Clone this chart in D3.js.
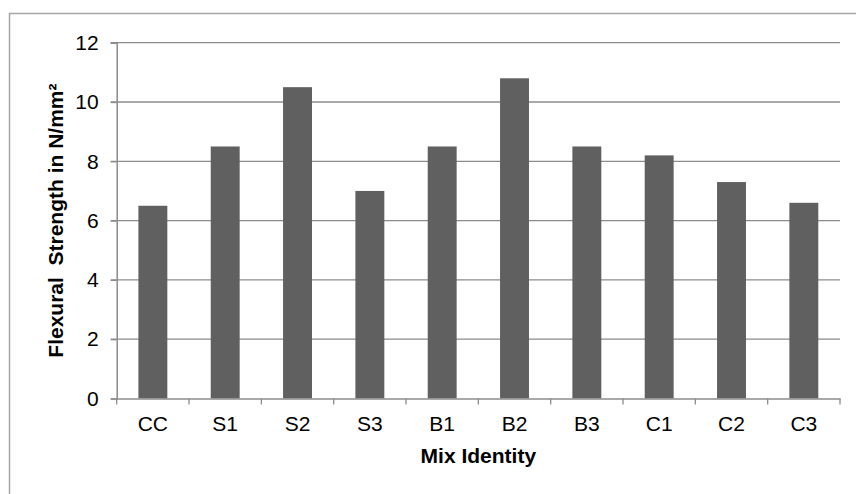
<!DOCTYPE html>
<html>
<head>
<meta charset="utf-8">
<script src="https://cdn.jsdelivr.net/npm/d3@7"></script>
<style>
  html, body { margin: 0; padding: 0; background: #fff; }
  svg { display: block; font-family: "Liberation Sans", Arial, sans-serif; }
</style>
</head>
<body>
<svg id="chart" width="856" height="494"></svg>
<script>
const categories = ["CC", "S1", "S2", "S3", "B1", "B2", "B3", "C1", "C2", "C3"];
const values = [6.5, 8.5, 10.5, 7.0, 8.5, 10.8, 8.5, 8.2, 7.3, 6.6];
const yTicks = [0, 2, 4, 6, 8, 10, 12];
const xTitle = "Mix Identity";
const yTitle = "Flexural  Strength in N/mm²";

const svg = d3.select("#chart");
const plotL = 116.7, plotR = 840, plotT = 42.7, plotB = 398.5;

// outer border
svg.append("rect")
  .attr("x", 9.5).attr("y", 13.5)
  .attr("width", 860).attr("height", 500)
  .attr("fill", "none").attr("stroke", "#a6a6a6").attr("stroke-width", 1.5);

const x = d3.scaleBand().domain(categories).range([plotL, plotR]).paddingInner(0.6).paddingOuter(0.3);
const xb = d3.scaleBand().domain(categories).range([plotL, plotR]);
const y = d3.scaleLinear().domain([0, 12]).range([plotB, plotT]);

// gridlines
svg.append("g").selectAll("line").data(yTicks.filter(d => d > 0)).join("line")
  .attr("x1", plotL - 6).attr("x2", plotR)
  .attr("y1", d => y(d)).attr("y2", d => y(d))
  .attr("stroke", "#8c8c8c").attr("stroke-width", 1.3);

// bars
svg.append("g").selectAll("rect").data(values).join("rect")
  .attr("x", (d, i) => x(categories[i]))
  .attr("width", x.bandwidth())
  .attr("y", d => y(d))
  .attr("height", d => y(0) - y(d))
  .attr("fill", "#606060");

// y axis
const yAxis = svg.append("g").attr("transform", `translate(${plotL},0)`)
  .call(d3.axisLeft(y).tickValues(yTicks).tickSize(6).tickPadding(12).tickFormat(d3.format("d")));
yAxis.select(".domain").attr("stroke", "#8c8c8c").attr("stroke-width", 1.5);
yAxis.selectAll(".tick line").attr("stroke", "#8c8c8c").attr("stroke-width", 1.3);
yAxis.selectAll("text").attr("font-size", 21).attr("fill", "#000")
  .attr("font-family", "Liberation Sans, Arial, sans-serif");

// x axis
const xAxis = svg.append("g").attr("transform", `translate(0,${plotB})`)
  .call(d3.axisBottom(xb).tickSize(0).tickPadding(18).tickSizeOuter(0));
xAxis.select(".domain").attr("stroke", "#8c8c8c").attr("stroke-width", 1.5);
xAxis.selectAll("text").attr("font-size", 21).attr("fill", "#000")
  .attr("font-family", "Liberation Sans, Arial, sans-serif");
// x tick marks at band boundaries
const bounds = categories.map(c => xb(c)).concat([plotR]);
svg.append("g").selectAll("line").data(bounds).join("line")
  .attr("x1", d => d).attr("x2", d => d)
  .attr("y1", plotB).attr("y2", plotB + 6)
  .attr("stroke", "#8c8c8c").attr("stroke-width", 1.3);

// titles
svg.append("text")
  .attr("x", (plotL + plotR) / 2).attr("y", 463)
  .attr("text-anchor", "middle").attr("font-size", 21).attr("font-weight", "bold")
  .text(xTitle);

svg.append("text")
  .attr("transform", `translate(63,${(plotT + plotB) / 2}) rotate(-90)`)
  .attr("text-anchor", "middle").attr("font-size", 21).attr("font-weight", "bold")
  .style("white-space", "pre")
  .text(yTitle);
</script>
</body>
</html>
